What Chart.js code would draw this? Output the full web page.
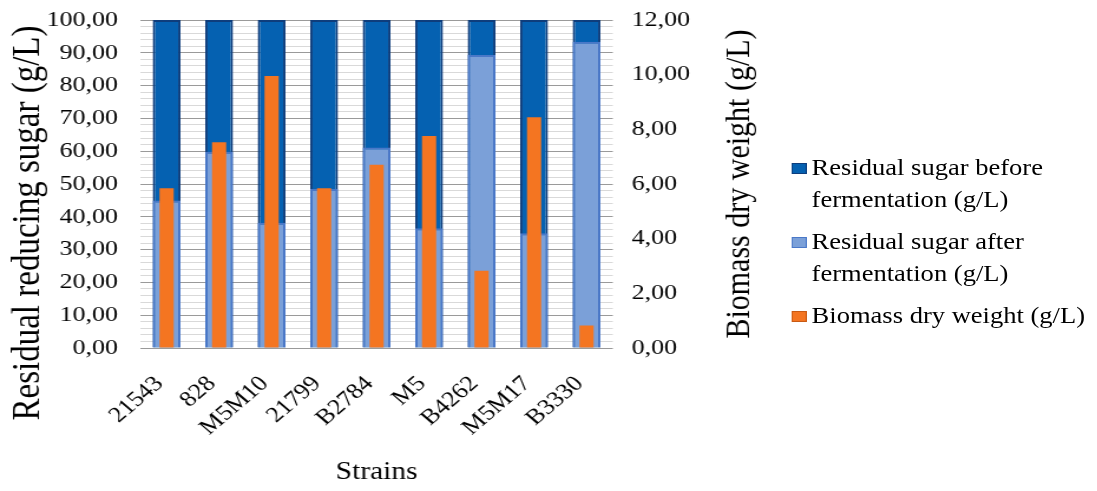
<!DOCTYPE html>
<html>
<head>
<meta charset="utf-8">
<script src="https://cdn.jsdelivr.net/npm/chart.js@4.4.1/dist/chart.umd.min.js"></script>
<style>
html, body { margin: 0; padding: 0; background: #fff; overflow: hidden; }
#wrap { position: relative; width: 930px; height: 491px; transform: scaleX(1.1796); transform-origin: 0 0; }
#legend { position: absolute; left: 671px; top: 152px; width: 258px; font-family: 'Liberation Serif', 'Times New Roman', serif; font-size: 22.5px; line-height: 32px; color: #000; }
.item { position: relative; padding-left: 17px; margin-bottom: 10px; }
.box { position: absolute; left: 0; top: 11px; width: 11px; height: 9px; }
</style>
</head>
<body>
<div id="wrap">
  <canvas id="c" width="930" height="491"></canvas>
  <div id="legend"></div>
</div>
<script>
const strains = ['21543', '828', 'M5M10', '21799', 'B2784', 'M5', 'B4262', 'M5M17', 'B3330'];
const sugarBefore = [100, 100, 100, 100, 100, 100, 100, 100, 100];
const sugarAfter = [45.0, 59.8, 38.2, 48.5, 61.1, 36.5, 89.3, 35.0, 93.4];
const biomass = [5.84, 7.53, 9.95, 5.84, 6.70, 7.76, 2.83, 8.44, 0.82];
const sugarTicks = ['0,00', '10,00', '20,00', '30,00', '40,00', '50,00', '60,00', '70,00', '80,00', '90,00', '100,00'];
const biomassTicks = ['0,00', '2,00', '4,00', '6,00', '8,00', '10,00', '12,00'];

const F = "'Liberation Serif', 'Times New Roman', serif";

// titels van de y-assen zelf tekenen (rechts leest van onder naar boven)
const axisTitles = {
    id: 'axisTitles',
    afterDraw(chart) {
        const ctx = chart.ctx;
        ctx.save();
        ctx.fillStyle = '#000';
        ctx.textAlign = 'center';
        ctx.textBaseline = 'middle';
        ctx.font = '33px ' + F;
        ctx.translate(24, 223);
        ctx.rotate(-Math.PI / 2);
        ctx.fillText('Residual reducing sugar (g/L)', 0, 0);
        ctx.restore();
        ctx.save();
        ctx.fillStyle = '#000';
        ctx.textAlign = 'center';
        ctx.textBaseline = 'middle';
        ctx.font = '30px ' + F;
        ctx.translate(627, 184);
        ctx.rotate(-Math.PI / 2);
        ctx.fillText('Biomass dry weight (g/L)', 0, 0);
        ctx.restore();
    }
};

// vaste breedte voor de y-assen, zonder extra ruimte boven/onder
const fixWidth = w => s => { s.width = w; s.paddingTop = 0; s.paddingBottom = 0; };

const datasets = [
    { label: 'Residual sugar before fermentation (g/L)', data: sugarBefore, yAxisID: 'y', order: 3,
      backgroundColor: '#0561b1', borderColor: '#0e3d7c', borderWidth: 2, borderSkipped: 'bottom',
      barPercentage: 0.53, categoryPercentage: 1, grouped: false },
    { label: 'Residual sugar after fermentation (g/L)', data: sugarAfter, yAxisID: 'y', order: 2,
      backgroundColor: '#7ba0d8', borderColor: '#4a78c8', borderWidth: 2, borderSkipped: 'bottom',
      barPercentage: 0.53, categoryPercentage: 1, grouped: false },
    { label: 'Biomass dry weight (g/L)', data: biomass, yAxisID: 'y2', order: 1,
      backgroundColor: '#f47521', borderColor: '#e8661a', borderWidth: 0,
      barPercentage: 0.27, categoryPercentage: 1, grouped: false }
];

new Chart(document.getElementById('c'), {
    type: 'bar',
    data: { labels: strains, datasets },
    options: {
        responsive: false,
        animation: false,
        layout: { padding: { top: 20, left: 0, right: 0, bottom: 0 } },
        plugins: { legend: { display: false }, tooltip: { enabled: false } },
        scales: {
            x: {
                offset: true,
                grid: { display: false },
                border: { display: false },
                ticks: { color: '#000', font: { family: F, size: 22 }, minRotation: 45, maxRotation: 45, padding: 15, labelOffset: -6, autoSkip: false },
                title: { display: true, text: 'Strains', color: '#000', font: { family: F, size: 25 } },
                afterFit(s) { s.height = 143; }
            },
            y: {
                position: 'left', min: 0, max: 100,
                ticks: { stepSize: 10, color: '#000', font: { family: F, size: 22 }, padding: 19, callback: (v, i) => sugarTicks[i] },
                grid: { color: '#9a9a9a', lineWidth: 1, drawTicks: false },
                border: { display: false },
                afterFit: fixWidth(119)
            },
            yMinor: {
                position: 'left', min: 0, max: 100,
                ticks: { display: false, stepSize: 2, maxTicksLimit: 60, font: { size: 4 } },
                grid: { color: c => (c.tick && c.tick.value % 10 === 0) ? 'rgba(0,0,0,0)' : '#d9d9d9', drawTicks: false },
                border: { display: false },
                afterFit: fixWidth(0)
            },
            y2: {
                position: 'right', min: 0, max: 12,
                ticks: { stepSize: 2, color: '#000', font: { family: F, size: 22 }, padding: 16, callback: (v, i) => biomassTicks[i] },
                grid: { drawOnChartArea: false, drawTicks: false },
                border: { display: false },
                afterFit: fixWidth(410.5)
            }
        }
    },
    plugins: [axisTitles]
});

// legenda in html, volgorde zoals de datasets
document.getElementById('legend').innerHTML = datasets.map(d => `
    <div class="item"><span class="box" style="background:${d.backgroundColor};border:1px solid ${d.order === 1 ? '#c85a14' : d.borderColor}"></span>${d.label}</div>`).join('');
</script>
</body>
</html>
